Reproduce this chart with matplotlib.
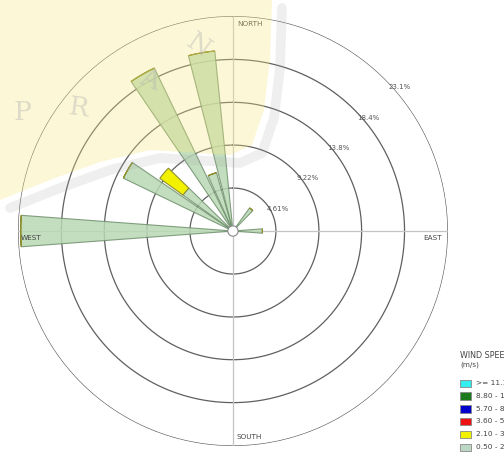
import matplotlib.pyplot as plt
import numpy as np
from matplotlib.transforms import offset_copy
from matplotlib.patches import Polygon, Rectangle

# 풍향 (deg, 북쪽 기준 시계방향) 과 풍속 구간별 빈도 (%)
directions = [40, 90, 270, 300, 310, 330, 340, 350]
freq_050_210 = [3.05, 3.16, 22.76, 13.05, 6.6, 19.4, 6.5, 19.4]
freq_210_360 = [0, 0, 0, 0, 3.06, 0, 0, 0]

ring_values = [4.61, 9.22, 13.8, 18.4, 23.1]
ring_labels = ["4.61%", "9.22%", "13.8%", "18.4%", "23.1%"]

legend_labels = [">= 11.10", "8.80 - 11.10", "5.70 - 8.80",
                 "3.60 - 5.70", "2.10 - 3.60", "0.50 - 2.10"]
legend_colors = ["#33eeee", "#1b7a1b", "#0000cc", "#ee1111", "#f2f200", "#bcd8c4"]

r_max = 23.05
calm_r = 0.55
petal_w = np.deg2rad(8.5)

fig = plt.figure(figsize=(5.04, 4.74), dpi=100)
ax = fig.add_axes([0.0357, 0.0591, 0.853, 0.907], projection='polar')
ax.set_theta_zero_location('N')
ax.set_theta_direction(-1)
ax.set_ylim(0, r_max)
ax.set_axis_off()

# 원형 눈금
t = np.linspace(0, 2 * np.pi, 400)
for r in ring_values[:-1] + [r_max]:
    ax.plot(t, np.full_like(t, r), color='#5f5f5f', lw=0.9, zorder=1)

# 동서남북 축선
for a in [0, 0.5 * np.pi, np.pi, 1.5 * np.pi]:
    ax.plot([a, a], [0, r_max], color='#c4c4c4', lw=0.9, zorder=1)

# 바람장미
theta = np.deg2rad(directions)
green = np.array(freq_050_210)
yellow = np.array(freq_210_360)
ax.bar(theta, green, width=petal_w, bottom=0, color='#b9d9b4', alpha=0.85,
       edgecolor='#6f8f6c', lw=0.8, zorder=2)
ax.bar(theta, yellow, width=petal_w, bottom=green, color=legend_colors[4],
       edgecolor='#8f8f30', lw=0.8, zorder=2)

# calm 원
ax.fill(t, np.full_like(t, calm_r), facecolor='white', edgecolor='#888888',
        lw=0.8, zorder=3)

# 눈금 라벨
lab_tr = offset_copy(ax.transData, fig=fig, x=3, y=-8, units='dots')
for r, s in zip(ring_values, ring_labels):
    ax.text(np.deg2rad(45), r, s, transform=lab_tr, ha='left', va='center',
            fontsize=5, color='#555555')

def compass(angle, text, dx, dy, ha, va):
    tr = offset_copy(ax.transData, fig=fig, x=dx, y=dy, units='dots')
    ax.text(np.deg2rad(angle), r_max, text, transform=tr, ha=ha, va=va,
            fontsize=5.2, color='#444444')

compass(0, "NORTH", 4, -5, 'left', 'top')
compass(270, "WEST", 3, -4, 'left', 'top')
compass(90, "EAST", -6, -4, 'right', 'top')
compass(180, "SOUTH", 4, 6, 'left', 'bottom')

# 범례 (오른쪽 아래, 그림 끝에서 잘림)
fig.text(460 / 504, 1 - 355 / 474, "WIND SPEED", fontsize=5.8, color='#444444',
         va='center', ha='left')
fig.text(460 / 504, 1 - 365 / 474, "(m/s)", fontsize=5.2, color='#444444',
         va='center', ha='left')
for i, (lab, c) in enumerate(zip(legend_labels, legend_colors)):
    y = 383 + i * 12.8
    fig.add_artist(Rectangle((460 / 504, 1 - (y + 4) / 474), 10.5 / 504, 7.5 / 474,
                             transform=fig.transFigure, facecolor=c,
                             edgecolor='#888888', lw=0.6))
    fig.text(476 / 504, 1 - y / 474, lab, fontsize=5.3, color='#444444',
             va='center', ha='left')

# 배경 워터마크
wm = fig.add_axes([0, 0, 1, 1], zorder=5)
wm.set_xlim(0, 504)
wm.set_ylim(474, 0)
wm.set_axis_off()
edge = [(272, 0), (270, 60), (264, 110), (252, 145), (230, 155), (150, 150),
        (100, 162), (50, 180), (0, 200)]
wm.add_patch(Polygon([(0, 0)] + edge, closed=True, facecolor='#f8e880',
                     edgecolor='none', alpha=0.32))
wm.plot([p[0] + 10 for p in edge], [p[1] + 8 for p in edge], color='#a8a8a8',
        lw=7, alpha=0.18, solid_joinstyle='round', solid_capstyle='round')
for s, x, y, rot in [("P", 22, 112, 0), ("R", 78, 108, -8),
                     ("A", 150, 80, -22), ("N", 198, 45, -35)]:
    wm.text(x, y, s, fontsize=19, family='DejaVu Serif', color='#b8b8b8',
            alpha=0.45, ha='center', va='center', rotation=rot)

fig.savefig('out.png', dpi=100)
